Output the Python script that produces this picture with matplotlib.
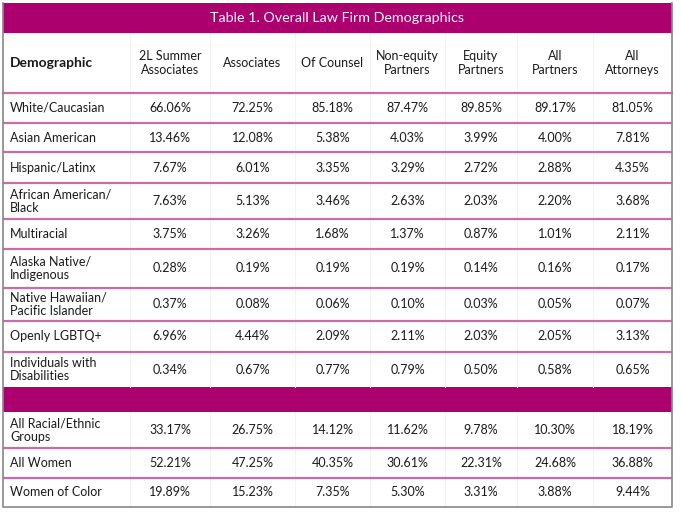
import matplotlib
matplotlib.use("Agg")
import matplotlib.pyplot as plt
from matplotlib.patches import Rectangle

plt.rcParams['font.family'] = ['Lato', 'DejaVu Sans']

title = "Table 1. Overall Law Firm Demographics"
columns = ["Demographic", "2L Summer\nAssociates", "Associates", "Of Counsel",
           "Non-equity\nPartners", "Equity\nPartners", "All\nPartners", "All\nAttorneys"]

groups = ["White/Caucasian", "Asian American", "Hispanic/Latinx", "African American/\nBlack",
          "Multiracial", "Alaska Native/\nIndigenous", "Native Hawaiian/\nPacific Islander",
          "Openly LGBTQ+", "Individuals with\nDisabilities"]
group_values = [
    ["66.06%", "72.25%", "85.18%", "87.47%", "89.85%", "89.17%", "81.05%"],
    ["13.46%", "12.08%", "5.38%", "4.03%", "3.99%", "4.00%", "7.81%"],
    ["7.67%", "6.01%", "3.35%", "3.29%", "2.72%", "2.88%", "4.35%"],
    ["7.63%", "5.13%", "3.46%", "2.63%", "2.03%", "2.20%", "3.68%"],
    ["3.75%", "3.26%", "1.68%", "1.37%", "0.87%", "1.01%", "2.11%"],
    ["0.28%", "0.19%", "0.19%", "0.19%", "0.14%", "0.16%", "0.17%"],
    ["0.37%", "0.08%", "0.06%", "0.10%", "0.03%", "0.05%", "0.07%"],
    ["6.96%", "4.44%", "2.09%", "2.11%", "2.03%", "2.05%", "3.13%"],
    ["0.34%", "0.67%", "0.77%", "0.79%", "0.50%", "0.58%", "0.65%"],
]

totals = ["All Racial/Ethnic\nGroups", "All Women", "Women of Color"]
total_values = [
    ["33.17%", "26.75%", "14.12%", "11.62%", "9.78%", "10.30%", "18.19%"],
    ["52.21%", "47.25%", "40.35%", "30.61%", "22.31%", "24.68%", "36.88%"],
    ["19.89%", "15.23%", "7.35%", "5.30%", "3.31%", "3.88%", "9.44%"],
]

# layout in pixels
col_edges = [3, 130, 210, 295, 370, 445, 517, 593, 672]
top, title_bottom, header_bottom = 3, 33, 93
group_edges = [93, 123, 152, 183, 219, 249, 288, 321, 352, 387]
band_bottom = 412
total_edges = [412, 448, 478, 507]

magenta = "#ad006f"
sep = "#cf6aa8"

fig = plt.figure(figsize=(6.82, 5.14), dpi=100)
ax = fig.add_axes([0, 0, 1, 1])
ax.set_xlim(0, 682)
ax.set_ylim(514, 0)
ax.axis("off")

left, right = col_edges[0], col_edges[-1]
bottom = total_edges[-1]

# title bar
ax.add_patch(Rectangle((left, top), right - left, title_bottom - top, color=magenta, lw=0))
ax.text((left + right) / 2, (top + title_bottom) / 2, title, color="white",
        fontsize=10.3, ha="center", va="center")

# magenta band between groups and totals
ax.add_patch(Rectangle((left, group_edges[-1]), right - left, band_bottom - group_edges[-1],
                       color=magenta, lw=0))

# vertical faint column lines
for x in col_edges[1:-1]:
    ax.plot([x, x], [title_bottom, group_edges[-1]], color="#f3f3f3", lw=0.7)
    ax.plot([x, x], [band_bottom, bottom], color="#f3f3f3", lw=0.7)

# header
centers = [(col_edges[i] + col_edges[i + 1]) / 2 for i in range(len(col_edges) - 1)]
hy = (title_bottom + header_bottom) / 2
ax.text(left + 7, hy, columns[0], fontsize=10, fontweight="bold", ha="left", va="center",
        color="#1a1a1a")
for cx, name in zip(centers[1:], columns[1:]):
    ax.text(cx, hy, name, fontsize=9, ha="center", va="center", color="#1a1a1a",
            linespacing=1.15)


def draw_rows(edges, labels, values):
    for i, (label, vals) in enumerate(zip(labels, values)):
        y = (edges[i] + edges[i + 1]) / 2
        ax.text(left + 7, y, label, fontsize=9, ha="left", va="center", color="#1a1a1a",
                linespacing=1.15)
        for cx, v in zip(centers[1:], vals):
            ax.text(cx, y, v, fontsize=9, ha="center", va="center", color="#1a1a1a")
    for e in edges[1:-1]:
        ax.plot([left, right], [e, e], color=sep, lw=1.6, solid_capstyle="butt")


ax.plot([left, right], [header_bottom, header_bottom], color=sep, lw=1.6)
draw_rows(group_edges, groups, group_values)
draw_rows(total_edges, totals, total_values)

# outer border
ax.plot([left, left, right, right], [top, bottom, bottom, top], color="#888888", lw=1.2)

fig.savefig("out.png", dpi=100)
